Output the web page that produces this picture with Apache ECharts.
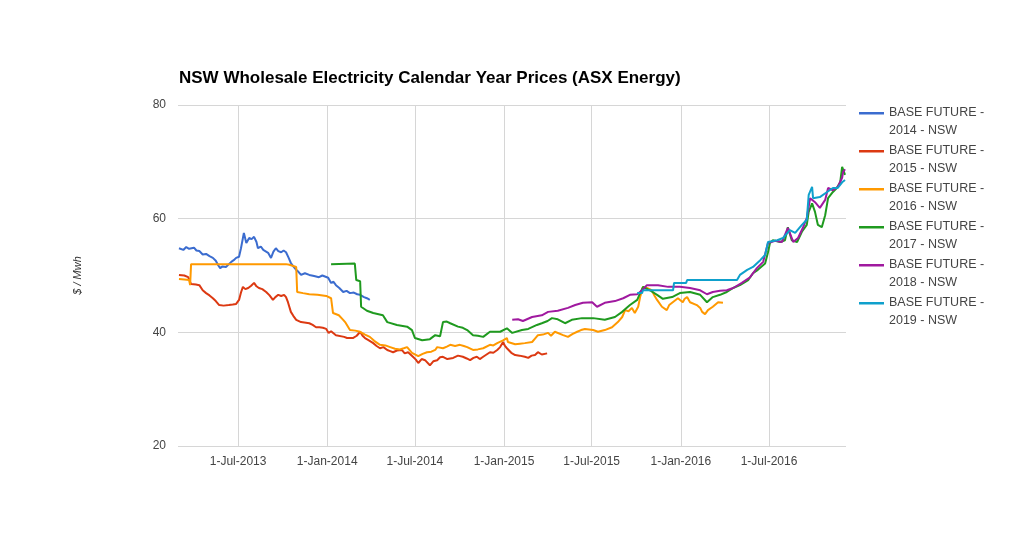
<!DOCTYPE html>
<html>
<head>
<meta charset="utf-8">
<script src="https://cdn.jsdelivr.net/npm/echarts@6/dist/echarts.min.js"></script>
<style>
html,body{margin:0;padding:0;background:#fff;}
#chart{width:1024px;height:551px;}
</style>
</head>
<body>
<div id="chart"></div>
<script>
const titleText = 'NSW Wholesale Electricity Calendar Year Prices (ASX Energy)';
const yAxisName = '$ / Mwh';
const seriesNames = ['BASE FUTURE - 2014 - NSW','BASE FUTURE - 2015 - NSW','BASE FUTURE - 2016 - NSW','BASE FUTURE - 2017 - NSW','BASE FUTURE - 2018 - NSW','BASE FUTURE - 2019 - NSW'];
const monthNames = ['Jan','Feb','Mar','Apr','May','Jun','Jul','Aug','Sep','Oct','Nov','Dec'];
const yTicks = {min: 20, max: 80, interval: 20};
const xRange = {min: '2013-02-27', max: '2016-12-07'};

const base2014 = [
['2013-03-01',54.8],['2013-03-10',54.5],['2013-03-16',55.0],['2013-03-22',54.7],['2013-04-01',54.9],['2013-04-06',54.4],['2013-04-12',54.3],
['2013-04-19',53.7],['2013-04-26',53.8],['2013-05-03',53.4],['2013-05-10',53.1],['2013-05-16',52.6],['2013-05-21',51.8],['2013-05-25',51.3],
['2013-05-30',51.6],['2013-06-06',51.5],['2013-06-12',52.0],['2013-06-17',52.4],['2013-06-22',52.7],['2013-06-27',53.1],['2013-07-03',53.3],
['2013-07-07',54.8],['2013-07-13',57.5],['2013-07-18',55.7],['2013-07-24',56.6],['2013-07-29',56.4],['2013-08-03',56.8],['2013-08-08',55.9],
['2013-08-11',54.8],['2013-08-17',55.1],['2013-08-22',54.5],['2013-09-01',54.0],['2013-09-07',53.1],['2013-09-12',54.2],['2013-09-17',54.8],
['2013-09-22',54.3],['2013-09-28',54.1],['2013-10-03',54.4],['2013-10-08',54.1],['2013-10-13',53.2],['2013-10-18',52.2],['2013-10-23',51.6],
['2013-10-29',51.0],['2013-11-03',50.6],['2013-11-08',50.1],['2013-11-16',50.4],['2013-11-25',50.1],['2013-12-05',49.9],['2013-12-15',49.7],
['2013-12-22',50.0],['2014-01-03',49.6],['2014-01-09',48.7],['2014-01-14',48.9],['2014-01-19',48.3],['2014-01-26',47.8],['2014-02-03',47.1],
['2014-02-10',47.3],['2014-02-17',46.9],['2014-02-25',47.0],['2014-03-04',46.7],['2014-03-10',46.6],['2014-03-18',46.2],['2014-03-24',46.0],['2014-03-30',45.7]
];

const base2015 = [
['2013-03-01',50.1],['2013-03-12',50.0],['2013-03-20',49.7],['2013-03-26',48.5],['2013-04-05',48.4],['2013-04-12',48.3],['2013-04-19',47.4],
['2013-04-26',46.9],['2013-05-03',46.5],['2013-05-10',46.0],['2013-05-16',45.5],['2013-05-23',44.8],['2013-06-01',44.7],['2013-06-12',44.8],
['2013-06-20',44.9],['2013-06-27',45.0],['2013-07-03',45.7],['2013-07-07',47.0],['2013-07-11',48.0],['2013-07-16',47.6],['2013-07-22',47.8],
['2013-07-28',48.2],['2013-08-03',48.7],['2013-08-08',48.1],['2013-08-13',47.8],['2013-08-20',47.6],['2013-08-28',47.1],['2013-09-04',46.5],
['2013-09-11',45.7],['2013-09-16',46.2],['2013-09-22',46.6],['2013-09-28',46.4],['2013-10-04',46.6],['2013-10-08',46.2],['2013-10-12',45.3],
['2013-10-18',43.6],['2013-10-23',42.9],['2013-10-29',42.2],['2013-11-08',41.8],['2013-11-25',41.6],['2013-12-02',41.3],['2013-12-09',40.9],
['2013-12-16',40.9],['2013-12-23',40.8],['2013-12-30',40.6],['2014-01-04',39.9],['2014-01-09',40.2],['2014-01-19',39.5],['2014-02-05',39.2],
['2014-02-11',39.0],['2014-02-23',39.0],['2014-03-03',39.4],['2014-03-10',40.1],['2014-03-15',39.4],['2014-03-20',39.0],['2014-03-28',38.6],
['2014-04-06',38.1],['2014-04-13',37.6],['2014-04-20',37.2],['2014-04-27',37.4],['2014-05-05',36.9],['2014-05-11',36.7],['2014-05-17',36.5],
['2014-05-25',36.8],['2014-06-04',36.9],['2014-06-10',36.3],['2014-06-17',36.5],['2014-06-27',35.7],['2014-07-03',35.2],['2014-07-08',34.6],
['2014-07-15',35.3],['2014-07-22',35.1],['2014-08-01',34.2],['2014-08-08',34.9],['2014-08-16',35.1],['2014-08-22',35.6],['2014-08-28',35.7],
['2014-09-06',35.3],['2014-09-18',35.5],['2014-09-28',35.9],['2014-10-08',35.7],['2014-10-16',35.4],['2014-10-23',35.1],['2014-10-30',35.5],
['2014-11-06',35.7],['2014-11-12',35.3],['2014-11-19',35.7],['2014-11-26',36.1],['2014-12-03',36.5],['2014-12-10',36.4],['2014-12-18',36.9],
['2014-12-24',37.4],['2014-12-30',38.3],['2015-01-03',37.6],['2015-01-07',37.2],['2015-01-09',36.9],['2015-01-16',36.4],['2015-01-24',36.0],
['2015-02-02',35.9],['2015-02-13',35.7],['2015-02-20',35.5],['2015-02-27',35.9],['2015-03-06',36.0],['2015-03-12',36.5],['2015-03-20',36.1],['2015-03-31',36.3]
];

const base2016 = [
['2013-03-01',49.4],['2013-03-12',49.3],['2013-03-22',49.2],['2013-03-24',48.3],['2013-03-26',52.0],['2013-05-15',52.0],['2013-07-01',52.0],
['2013-08-20',52.0],['2013-10-08',52.0],['2013-10-15',51.9],['2013-10-29',51.5],['2013-10-31',47.1],['2013-11-12',46.9],['2013-11-25',46.7],
['2013-12-12',46.6],['2013-12-30',46.4],['2014-01-09',46.0],['2014-01-13',43.4],['2014-01-25',43.0],['2014-02-03',42.2],['2014-02-07',41.8],
['2014-02-17',40.4],['2014-02-28',40.3],['2014-03-10',40.1],['2014-03-20',39.6],['2014-03-30',39.2],['2014-04-08',38.5],['2014-04-20',37.8],
['2014-05-01',37.7],['2014-05-11',37.4],['2014-05-21',37.1],['2014-05-31',37.0],['2014-06-08',37.2],['2014-06-15',37.4],['2014-06-25',36.4],
['2014-07-08',35.8],['2014-07-17',36.2],['2014-07-26',36.5],['2014-08-04',36.6],['2014-08-12',36.9],['2014-08-16',37.4],['2014-08-28',37.2],
['2014-09-05',37.5],['2014-09-12',37.8],['2014-09-22',37.6],['2014-10-02',37.8],['2014-10-10',37.6],['2014-10-17',37.4],['2014-10-29',36.9],
['2014-11-08',37.0],['2014-11-19',37.2],['2014-12-03',37.8],['2014-12-10',37.7],['2014-12-18',38.1],['2014-12-30',38.6],['2015-01-07',39.0],
['2015-01-09',38.3],['2015-01-24',37.9],['2015-02-03',38.0],['2015-02-13',38.1],['2015-02-28',38.3],['2015-03-06',38.9],['2015-03-12',39.5],
['2015-03-22',39.6],['2015-04-02',39.9],['2015-04-08',39.4],['2015-04-16',40.1],['2015-05-03',39.5],['2015-05-13',39.2],['2015-05-22',39.7],
['2015-06-01',40.1],['2015-06-09',40.4],['2015-06-17',40.6],['2015-07-04',40.4],['2015-07-14',40.1],['2015-07-28',40.4],['2015-08-12',40.9],
['2015-08-24',41.8],['2015-09-02',42.7],['2015-09-08',43.9],['2015-09-15',43.7],['2015-09-22',44.3],['2015-09-28',43.4],['2015-10-05',44.5],
['2015-10-09',46.2],['2015-10-15',48.0],['2015-10-23',47.8],['2015-11-02',47.4],['2015-11-08',46.4],['2015-11-13',45.7],['2015-11-23',44.5],
['2015-12-03',43.9],['2015-12-08',44.8],['2015-12-14',45.2],['2015-12-26',46.0],['2016-01-05',45.3],['2016-01-09',45.9],['2016-01-14',46.2],
['2016-01-20',45.3],['2016-02-03',44.8],['2016-02-10',44.3],['2016-02-14',43.6],['2016-02-20',43.2],['2016-02-26',43.9],['2016-03-07',44.5],
['2016-03-18',45.3],['2016-03-28',45.2]
];

const base2017 = [
['2014-01-09',52.0],['2014-02-27',52.1],['2014-03-02',49.2],['2014-03-10',49.0],['2014-03-12',44.5],['2014-03-24',43.8],['2014-04-06',43.4],
['2014-04-26',43.0],['2014-05-05',41.8],['2014-05-25',41.3],['2014-06-15',41.0],['2014-06-25',40.4],['2014-07-01',39.0],['2014-07-16',38.6],
['2014-08-01',38.8],['2014-08-12',39.5],['2014-08-22',39.3],['2014-08-28',41.8],['2014-09-05',41.9],['2014-09-12',41.6],['2014-09-28',41.0],
['2014-10-08',40.8],['2014-10-17',40.4],['2014-10-29',39.5],['2014-11-08',39.4],['2014-11-19',39.2],['2014-12-03',40.1],['2014-12-24',40.1],
['2015-01-07',40.7],['2015-01-18',39.9],['2015-02-07',40.4],['2015-02-20',40.6],['2015-03-10',41.3],['2015-03-20',41.6],['2015-04-01',42.0],
['2015-04-10',42.5],['2015-04-22',42.3],['2015-05-07',41.6],['2015-05-21',42.2],['2015-06-11',42.5],['2015-07-04',42.5],['2015-07-28',42.2],
['2015-08-18',42.7],['2015-09-02',43.6],['2015-09-18',44.8],['2015-10-03',45.7],['2015-10-09',46.9],['2015-10-15',48.0],['2015-10-29',47.4],
['2015-11-13',46.6],['2015-11-25',45.9],['2015-12-14',46.2],['2015-12-30',46.9],['2016-01-20',47.1],['2016-02-10',46.6],['2016-02-24',45.3],
['2016-03-07',46.2],['2016-03-22',46.6],['2016-04-05',47.1],['2016-04-18',47.8],['2016-05-02',48.3],['2016-05-19',49.2],['2016-05-29',50.4],
['2016-06-08',51.0],['2016-06-23',52.1],['2016-06-29',54.1],['2016-07-03',55.7],['2016-07-09',56.2],['2016-07-24',55.9],['2016-08-03',56.2],
['2016-08-09',58.5],['2016-08-17',56.2],['2016-08-28',55.9],['2016-09-07',57.7],['2016-09-17',58.9],['2016-09-21',61.2],['2016-09-28',62.7],
['2016-10-04',61.2],['2016-10-10',58.9],['2016-10-18',58.5],['2016-10-25',60.6],['2016-10-31',63.6],['2016-11-10',64.7],['2016-11-18',65.4],
['2016-11-25',66.4],['2016-11-29',69.1],['2016-12-01',68.9],['2016-12-05',67.7]
];

const base2018 = [
['2015-01-18',42.2],['2015-01-30',42.3],['2015-02-09',42.0],['2015-02-28',42.7],['2015-03-20',43.0],['2015-04-02',43.6],['2015-04-22',43.8],
['2015-05-13',44.3],['2015-05-28',44.8],['2015-06-13',45.2],['2015-07-02',45.3],['2015-07-12',44.5],['2015-07-28',45.2],['2015-08-18',45.5],
['2015-09-04',46.0],['2015-09-18',46.6],['2015-10-03',46.7],['2015-10-13',47.4],['2015-10-23',48.3],['2015-11-15',48.3],['2015-12-06',48.0],
['2015-12-30',48.0],['2016-01-20',47.8],['2016-02-10',47.4],['2016-02-24',46.7],['2016-03-07',47.1],['2016-03-22',47.3],['2016-04-05',47.4],
['2016-04-18',47.8],['2016-05-06',48.7],['2016-05-23',49.7],['2016-06-06',51.3],['2016-06-19',52.4],['2016-06-29',55.7],['2016-07-14',56.1],
['2016-07-28',55.9],['2016-08-09',58.4],['2016-08-20',55.9],['2016-08-30',56.6],['2016-09-09',58.4],['2016-09-17',60.1],['2016-09-24',63.6],
['2016-10-04',62.9],['2016-10-14',61.9],['2016-10-25',63.3],['2016-10-31',65.4],['2016-11-10',65.0],['2016-11-20',65.6],['2016-11-29',67.2],
['2016-12-01',68.2],['2016-12-05',68.7]
];

const base2019 = [
['2015-10-03',46.9],['2015-10-13',46.9],['2015-10-15',47.4],['2015-12-16',47.4],['2015-12-18',48.7],['2016-01-12',48.7],['2016-01-14',49.2],
['2016-04-26',49.2],['2016-05-02',50.1],['2016-05-17',51.0],['2016-05-29',51.5],['2016-06-13',52.7],['2016-06-23',53.6],['2016-06-29',55.9],
['2016-07-18',56.2],['2016-07-30',56.6],['2016-08-13',58.0],['2016-08-24',57.5],['2016-09-07',58.9],['2016-09-17',59.8],['2016-09-21',64.2],
['2016-09-28',65.6],['2016-09-30',63.6],['2016-10-14',63.8],['2016-10-29',64.7],['2016-11-10',65.4],['2016-11-20',65.4],['2016-11-29',66.4],
['2016-12-05',66.8]
];

const seriesData = [base2014, base2015, base2016, base2017, base2018, base2019];
const colors = ['#3b6ccf','#dc3912','#ff9900','#1f9a1f','#a0199f','#0fa0cc'];

const chart = echarts.init(document.getElementById('chart'), null, {renderer: 'canvas'});
const fontFamily = '"Liberation Sans", Arial, sans-serif';

const option = {
  animation: false,
  backgroundColor: '#fff',
  color: colors,
  title: {
    text: titleText,
    left: 174,
    top: 65,
    textStyle: {fontFamily, fontSize: 17, fontWeight: 'bold', color: '#000'}
  },
  grid: {left: 178, right: 178, top: 105, bottom: 105, containLabel: false, outerBoundsMode: 'none'},
  legend: {
    orient: 'vertical',
    left: 854,
    top: 99,
    itemWidth: 25,
    itemHeight: 36,
    itemGap: 2,
    symbolKeepAspect: false,
    icon: 'path://M0,8H25V10.5H0Z M0,0H0.01V0.01H0Z M24.99,36H25V36.01H24.99Z',
    itemStyle: {borderWidth: 0},
    textStyle: {fontFamily, fontSize: 12.5, color: '#444', lineHeight: 18, padding: [0,0,0,0]},
    formatter: function (name) {
      const i = name.indexOf('- ');
      return name.slice(0, i + 1) + '\n' + name.slice(i + 2);
    },
    data: seriesNames
  },
  xAxis: {
    type: 'time',
    min: xRange.min,
    max: xRange.max,
    splitNumber: 7,
    minInterval: 180 * 86400000,
    axisLine: {show: false},
    axisTick: {show: false},
    splitLine: {show: true, showMinLine: false, showMaxLine: false, lineStyle: {color: '#d6d6d6', width: 1}},
    axisLabel: {
      fontFamily, fontSize: 12, color: '#444', margin: 10,
      formatter: function (val) {
        const d = new Date(val);
        return d.getDate() + '-' + monthNames[d.getMonth()] + '-' + d.getFullYear();
      }
    }
  },
  yAxis: {
    type: 'value',
    min: yTicks.min,
    max: yTicks.max,
    interval: yTicks.interval,
    name: yAxisName,
    nameLocation: 'middle',
    nameGap: 95,
    nameTextStyle: {fontFamily, fontSize: 11, fontStyle: 'italic', color: '#333'},
    axisLine: {show: false},
    axisTick: {show: false},
    splitLine: {show: true, lineStyle: {color: '#d6d6d6', width: 1}},
    axisLabel: {fontFamily, fontSize: 12, color: '#444', margin: 12}
  },
  series: seriesNames.map((name, i) => ({
    name,
    type: 'line',
    data: seriesData[i],
    showSymbol: false,
    symbol: 'none',
    lineStyle: {width: 2, color: colors[i]},
    itemStyle: {color: colors[i]},
    emphasis: {disabled: true}
  }))
};
chart.setOption(option);
</script>
</body>
</html>
